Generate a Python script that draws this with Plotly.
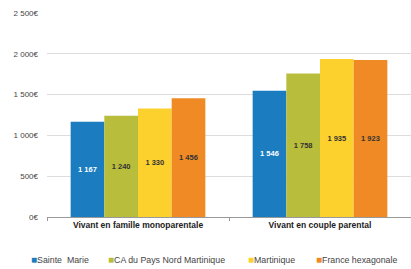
import plotly.graph_objects as go

categories = ["Vivant en famille monoparentale", "Vivant en couple parental"]
series_names = ["Sainte  Marie", "CA du Pays Nord Martinique", "Martinique", "France hexagonale"]
sainte_marie = [1167, 1546]
ca_nord = [1240, 1758]
martinique = [1330, 1935]
france = [1456, 1923]
tick_vals = [0, 500, 1000, 1500, 2000, 2500]
tick_text = ["0€", "500€", "1 000€", "1 500€", "2 000€", "2 500€"]

colors = ["#1b7dbf", "#b8bd3b", "#fcd12e", "#ef8a25"]
text_colors = ["white", "#333333", "#333333", "#333333"]
values = [sainte_marie, ca_nord, martinique, france]

W, H = 411, 269
ML, MR, MT, MB = 47, 0, 13, 52
pw, ph = W - ML - MR, H - MT - MB

fig = go.Figure()
for name, vals, c, tc in zip(series_names, values, colors, text_colors):
    fig.add_trace(go.Bar(
        x=categories, y=vals, name=name, showlegend=False,
        marker=dict(color=c, line=dict(width=0)),
        texttemplate="<b>%{y:,}</b>", textposition="inside", insidetextanchor="middle",
        textfont=dict(color=tc, size=7.5, family="Liberation Sans"),
        textangle=0,
    ))

# legend drawn as a row of annotations (layout positions in pixels)
legend_px = [29, 106, 246, 314]
legend_y_px = 259
for name, c, px in zip(series_names, colors, legend_px):
    fig.add_annotation(
        xref="paper", yref="paper",
        x=(px - ML) / pw, y=(MT + ph - legend_y_px) / ph,
        xanchor="left", yanchor="middle", showarrow=False,
        text=f'<span style="color:{c}; font-size:10px">■</span>{name}',
        font=dict(size=8.8, color="#444444", family="Liberation Sans"),
    )

fig.update_layout(
    width=W, height=H,
    margin=dict(l=ML, r=MR, t=MT, b=MB),
    paper_bgcolor="white", plot_bgcolor="white",
    separators=", ",
    barmode="group", bargap=0.26, bargroupgap=0,
    uniformtext=dict(minsize=7, mode="show"),
    font=dict(family="Liberation Sans", size=7, color="#333333"),
    showlegend=False,
    xaxis=dict(showline=True, linecolor="#999999", linewidth=1,
               ticks="outside", ticklen=3, tickcolor="#999999",
               tickson="boundaries",
               tickfont=dict(size=8.5, family="Liberation Sans", color="#222222", weight="bold")),
    yaxis=dict(range=[0, 2500], tickvals=tick_vals, ticktext=tick_text,
               showgrid=True, gridcolor="#dddddd", gridwidth=1,
               zeroline=False, showline=False, ticks="",
               tickfont=dict(size=8, color="#444444"), ticklabelstandoff=8),
)

fig.write_html("out.html", config={"displayModeBar": False},
               post_script="document.body.style.margin='0';")
